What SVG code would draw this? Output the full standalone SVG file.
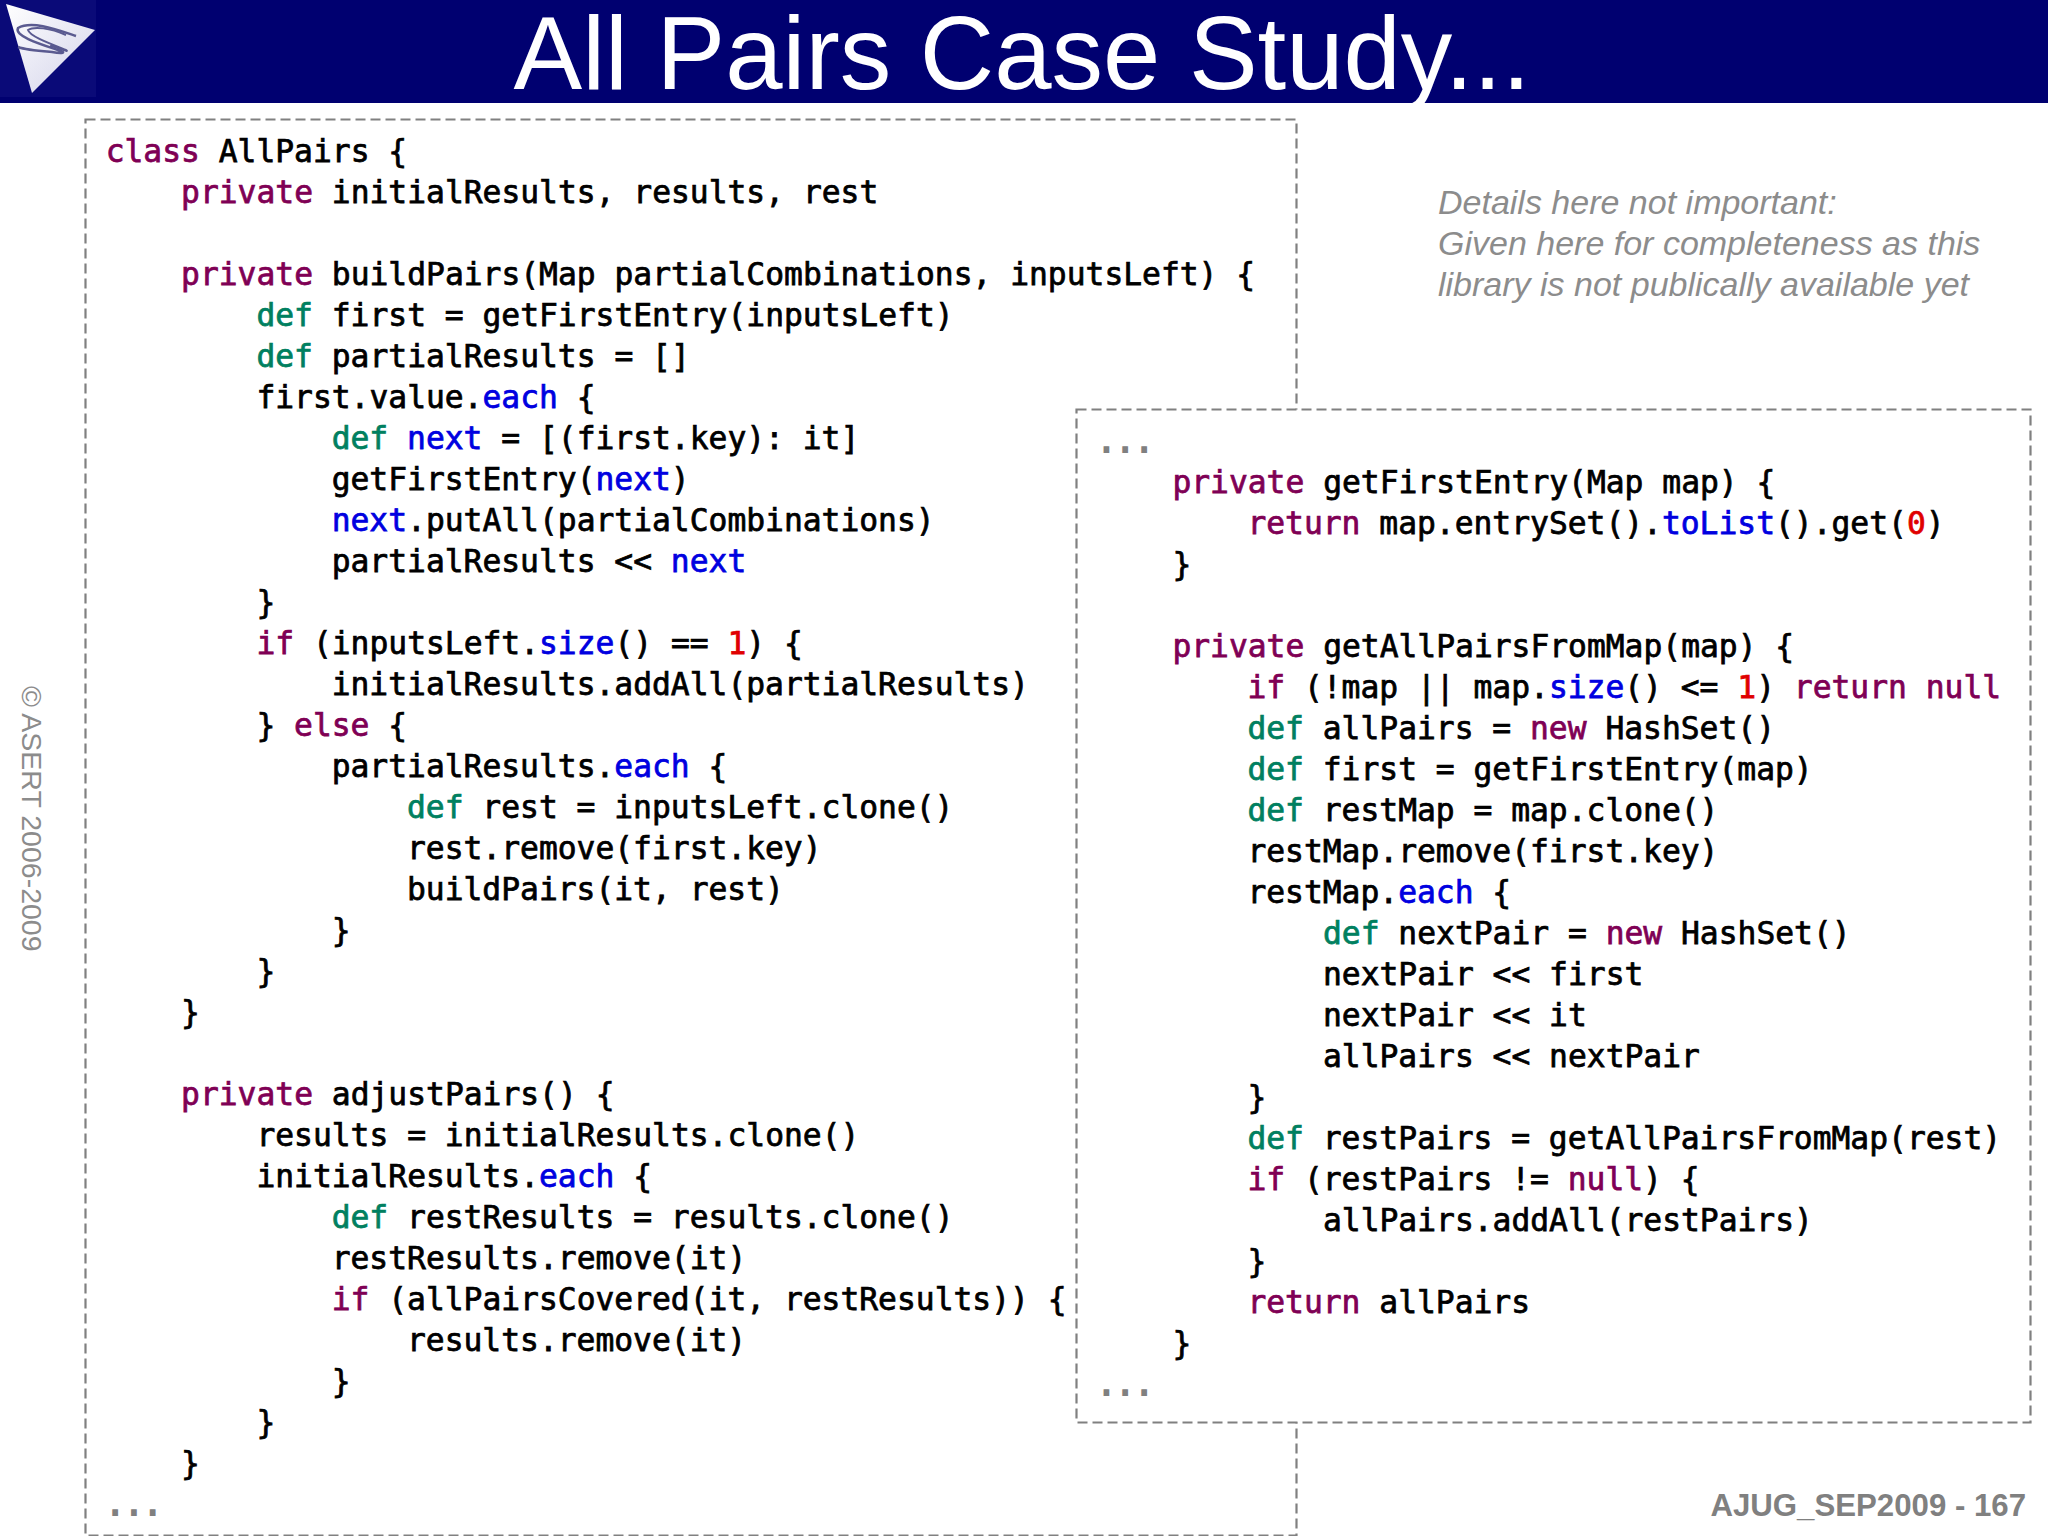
<svg xmlns="http://www.w3.org/2000/svg" width="2048" height="1536" viewBox="0 0 2048 1536">
<style>
.c{font-family:"DejaVu Sans Mono","Liberation Mono",monospace;font-size:31.3px;fill:#000;stroke:#000;stroke-width:.75px}
.k{fill:#7f0055;stroke:#7f0055}.d{fill:#008060;stroke:#008060}.b{fill:#0000e0;stroke:#0000e0}.r{fill:#e00000;stroke:#e00000}.g{fill:#808080;stroke:#808080;stroke-width:1.8px}
.box{fill:#fff;stroke:#808080;stroke-width:2.2;stroke-dasharray:10 5}
.note{font-family:"Liberation Sans",Arial,sans-serif;font-style:italic;font-size:34px;fill:#8c8c8c}
</style>
<defs>
<linearGradient id="tri" x1="0" y1="0" x2="1" y2="1"><stop offset="0" stop-color="#fff"/><stop offset=".7" stop-color="#e0e0f0"/><stop offset="1" stop-color="#9a9ac4"/></linearGradient>
<filter id="soft" x="-10%" y="-10%" width="120%" height="120%"><feGaussianBlur stdDeviation=".7"/></filter>
</defs>
<rect width="2048" height="1536" fill="#fff"/>
<g id="header">
<rect width="2048" height="103" fill="#000070"/>
<rect width="96" height="97" fill="#0a0a78"/>
<g filter="url(#soft)">
<polygon points="6,4 95,30 32,93" fill="url(#tri)"/>
<path d="M76,36 C58,30 32,20 18,28 C14,36 40,44 58,50 C68,53 62,54 52,52 C40,51 26,50 18,47" fill="none" stroke="#5a5a90" stroke-width="2.5"/>
<path d="M66,35 C50,28 34,26 28,30 C30,36 46,42 66,50 C70,53 60,48 50,46" fill="none" stroke="#5a5a90" stroke-width="2"/>
</g>
<text x="1022" y="89" text-anchor="middle" font-family="'Liberation Sans',Arial,sans-serif" font-size="103" fill="#fff">All Pairs Case Study...</text>
</g>
<text id="copyright" transform="translate(22,686) rotate(90)" font-family="'Liberation Sans',Arial,sans-serif" font-size="28.5" fill="#8c8c8c">© ASERT 2006-2009</text>
<g id="note" class="note">
<text x="1438" y="214">Details here not important:</text>
<text x="1438" y="255">Given here for completeness as this</text>
<text x="1438" y="296">library is not publically available yet</text>
</g>
<g id="left-code">
<rect class="box" x="85.5" y="119.5" width="1211" height="1416"/>
<g class="c">
<text x="105.7" y="162"><tspan class="k">class</tspan> AllPairs {</text>
<text x="181.1" y="203"><tspan class="k">private</tspan> initialResults, results, rest</text>
<text x="181.1" y="285"><tspan class="k">private</tspan> buildPairs(Map partialCombinations, inputsLeft) {</text>
<text x="256.4" y="326"><tspan class="d">def</tspan> first = getFirstEntry(inputsLeft)</text>
<text x="256.4" y="367"><tspan class="d">def</tspan> partialResults = []</text>
<text x="256.4" y="408">first.value.<tspan class="b">each</tspan> {</text>
<text x="331.7" y="449"><tspan class="d">def</tspan> <tspan class="b">next</tspan> = [(first.key): it]</text>
<text x="331.7" y="490">getFirstEntry(<tspan class="b">next</tspan>)</text>
<text x="331.7" y="531"><tspan class="b">next</tspan>.putAll(partialCombinations)</text>
<text x="331.7" y="572">partialResults &lt;&lt; <tspan class="b">next</tspan></text>
<text x="256.4" y="613">}</text>
<text x="256.4" y="654"><tspan class="k">if</tspan> (inputsLeft.<tspan class="b">size</tspan>() == <tspan class="r">1</tspan>) {</text>
<text x="331.7" y="695">initialResults.addAll(partialResults)</text>
<text x="256.4" y="736">} <tspan class="k">else</tspan> {</text>
<text x="331.7" y="777">partialResults.<tspan class="b">each</tspan> {</text>
<text x="407" y="818"><tspan class="d">def</tspan> rest = inputsLeft.clone()</text>
<text x="407" y="859">rest.remove(first.key)</text>
<text x="407" y="900">buildPairs(it, rest)</text>
<text x="331.7" y="941">}</text>
<text x="256.4" y="982">}</text>
<text x="181.1" y="1023">}</text>
<text x="181.1" y="1105"><tspan class="k">private</tspan> adjustPairs() {</text>
<text x="256.4" y="1146">results = initialResults.clone()</text>
<text x="256.4" y="1187">initialResults.<tspan class="b">each</tspan> {</text>
<text x="331.7" y="1228"><tspan class="d">def</tspan> restResults = results.clone()</text>
<text x="331.7" y="1269">restResults.remove(it)</text>
<text x="331.7" y="1310"><tspan class="k">if</tspan> (allPairsCovered(it, restResults)) {</text>
<text x="407" y="1351">results.remove(it)</text>
<text x="331.7" y="1392">}</text>
<text x="256.4" y="1433">}</text>
<text x="181.1" y="1474">}</text>
<text x="105.7" y="1515" class="g">...</text>
</g>
</g>
<g id="right-code">
<rect class="box" x="1076.5" y="409.5" width="954" height="1013"/>
<g class="c">
<text x="1097" y="452" class="g">...</text>
<text x="1172.4" y="493"><tspan class="k">private</tspan> getFirstEntry(Map map) {</text>
<text x="1247.4" y="534"><tspan class="k">return</tspan> map.entrySet().<tspan class="b">toList</tspan>().get(<tspan class="r">0</tspan>)</text>
<text x="1172.4" y="575">}</text>
<text x="1172.4" y="657"><tspan class="k">private</tspan> getAllPairsFromMap(map) {</text>
<text x="1247.4" y="698"><tspan class="k">if</tspan> (!map || map.<tspan class="b">size</tspan>() &lt;= <tspan class="r">1</tspan>) <tspan class="k">return</tspan> <tspan class="k">null</tspan></text>
<text x="1247.4" y="739"><tspan class="d">def</tspan> allPairs = <tspan class="k">new</tspan> HashSet()</text>
<text x="1247.4" y="780"><tspan class="d">def</tspan> first = getFirstEntry(map)</text>
<text x="1247.4" y="821"><tspan class="d">def</tspan> restMap = map.clone()</text>
<text x="1247.4" y="862">restMap.remove(first.key)</text>
<text x="1247.4" y="903">restMap.<tspan class="b">each</tspan> {</text>
<text x="1323" y="944"><tspan class="d">def</tspan> nextPair = <tspan class="k">new</tspan> HashSet()</text>
<text x="1323" y="985">nextPair &lt;&lt; first</text>
<text x="1323" y="1026">nextPair &lt;&lt; it</text>
<text x="1323" y="1067">allPairs &lt;&lt; nextPair</text>
<text x="1247.4" y="1108">}</text>
<text x="1247.4" y="1149"><tspan class="d">def</tspan> restPairs = getAllPairsFromMap(rest)</text>
<text x="1247.4" y="1190"><tspan class="k">if</tspan> (restPairs != <tspan class="k">null</tspan>) {</text>
<text x="1323" y="1231">allPairs.addAll(restPairs)</text>
<text x="1247.4" y="1272">}</text>
<text x="1247.4" y="1313"><tspan class="k">return</tspan> allPairs</text>
<text x="1172.4" y="1354">}</text>
<text x="1097" y="1395" class="g">...</text>
</g>
</g>
<text id="footer" x="2026" y="1516" text-anchor="end" font-family="'Liberation Sans',Arial,sans-serif" font-weight="bold" font-size="31.2" fill="#808080">AJUG_SEP2009 - 167</text>
</svg>
